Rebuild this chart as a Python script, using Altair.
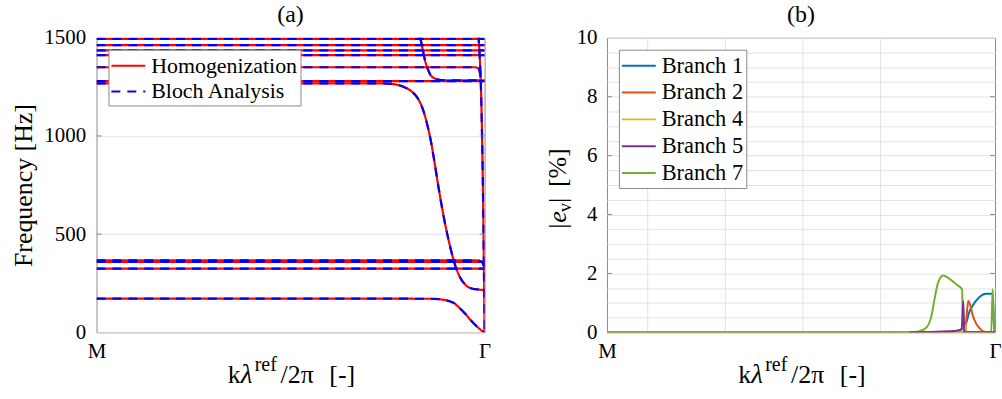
import altair as alt
import pandas as pd

FONT = "Liberation Serif"
FRAME = "#8a8a8a"
GRID = "#e2e2e2"

# ---------------- (a) dispersion diagram, k runs from M (0) to Γ (1), frequency in Hz
flat_hz = [324, 359, 1279, 1412, 1436, 1463, 1494]

acoustic_k = [0.0, 0.86, 0.89, 0.91, 0.92, 0.935, 0.95, 0.965, 0.98, 0.993, 1.0]
acoustic_hz = [172, 171, 167, 158, 150, 125, 95, 60, 30, 8, 0]

band366_k = [0.0, 0.98, 0.992, 1.0]
band366_hz = [366, 366, 360, 330]

band1350_k = [0.0, 0.975, 0.985, 0.99]
band1350_hz = [1350, 1350, 1342, 1300]

descend_k = [0.0, 0.72, 0.76, 0.78, 0.797, 0.816, 0.83, 0.842, 0.852, 0.862, 0.869,
             0.882, 0.899, 0.912, 0.921, 0.933, 0.95, 0.967, 0.985, 1.0]
descend_hz = [1268, 1268, 1265, 1258, 1245, 1220, 1185, 1130, 1060, 970, 890,
              730, 545, 430, 362, 295, 243, 223, 218, 215]

upper_k = [0.825, 0.835, 0.841, 0.846, 0.852, 0.86, 0.873, 0.89, 1.0]
upper_hz = [1590, 1494, 1436, 1389, 1350, 1313, 1292, 1284, 1283]

steep_k = [0.984, 0.987, 0.99, 0.993, 0.996, 0.998, 1.0]
steep_hz = [1520, 1420, 1290, 1050, 700, 380, 0]

methods = ["Homogenization", "Bloch Analysis"]
method_colors = ["#ff0000", "#0000ff"]
method_dash = [[1, 0], [9, 7]]

# ---------------- (b) relative error of each branch, in %
br1_k = [0.0, 0.86, 0.89, 0.905, 0.917, 0.925, 0.934, 0.942, 0.96, 0.977, 0.994, 0.998, 1.0]
br1_pct = [0, 0, 0.02, 0.06, 0.15, 0.3, 0.7, 0.9, 1.2, 1.31, 1.31, 0, 0]

br2_k = [0.0, 0.922, 0.927, 0.931, 0.936, 0.942, 0.95, 0.956, 0.963, 0.97, 0.98, 1.0]
br2_pct = [0, 0, 0.6, 1.06, 0.92, 0.6, 0.33, 0.2, 0.1, 0.03, 0, 0]

br4_k = [0.0, 0.919, 0.923, 0.927, 1.0]
br4_pct = [0, 0, 0.25, 0, 0]

br5_k = [0.78, 0.85, 0.9, 0.914, 0.918, 0.921, 1.0]
br5_pct = [0, 0.02, 0.05, 0.1, 1.06, 0, 0]

br7_k = [0.0, 0.79, 0.806, 0.823, 0.836, 0.844, 0.853, 0.866, 0.879, 0.9, 0.915,
         0.918, 0.99, 0.994, 0.998, 1.0]
br7_pct = [0, 0, 0.04, 0.16, 0.55, 1.12, 1.68, 1.93, 1.85, 1.63, 1.46,
           0, 0, 1.46, 0, 0]

branch_names = ["Branch 1", "Branch 2", "Branch 4", "Branch 5", "Branch 7"]
branch_colors = ["#0072BD", "#D95319", "#EDB120", "#7E2F8E", "#77AC30"]
# drawing order of the error curves
branch_series = [("Branch 1", br1_k, br1_pct), ("Branch 2", br2_k, br2_pct),
                 ("Branch 4", br4_k, br4_pct), ("Branch 7", br7_k, br7_pct),
                 ("Branch 5", br5_k, br5_pct)]

minor_k = [0.105, 0.305, 0.505, 0.705]

W, H = 390, 296

# ---------- build tables
rows = []
for i, hz in enumerate(flat_hz):
    rows += [{"band": f"flat{i}", "k": 0.0, "f": hz}, {"band": f"flat{i}", "k": 1.0, "f": hz}]
for name, ks, vs in [("acoustic", acoustic_k, acoustic_hz), ("b366", band366_k, band366_hz),
                     ("b1350", band1350_k, band1350_hz), ("descend", descend_k, descend_hz),
                     ("upper", upper_k, upper_hz), ("steep", steep_k, steep_hz)]:
    rows += [{"band": name, "k": k, "f": v} for k, v in zip(ks, vs)]
curves = pd.DataFrame(rows)

label_kw = dict(labelFont=FONT, labelColor="black")


def x_axis():
    return alt.X("k:Q", scale=alt.Scale(domain=[0, 1], nice=False, zero=False),
                 axis=alt.Axis(values=[0, 1], labelExpr="datum.value < 0.5 ? 'M' : 'Γ'",
                               title=None, grid=False, ticks=False, domain=False,
                               labelFlush=False, labelPadding=8, labelFontSize=21, **label_kw))


def x_title(pieces):
    layers = []
    for text, x, y, size, style in pieces:
        layers.append(
            alt.Chart(pd.DataFrame({"t": [text]})).mark_text(
                align="left", baseline="alphabetic", font=FONT, fontSize=size,
                fontStyle=style, color="black").encode(
                text="t:N", x=alt.value(x), y=alt.value(y)))
    return layers


# k λ^ref / 2π [-]
xt = [("k", 132, 347, 26, "normal"), ("λ", 145, 347, 27, "italic"),
      ("ref", 159, 335, 20, "normal"), ("/2π", 185, 347, 26, "normal"),
      ("[-]", 234, 347, 26, "normal")]


def legend(x, y, size):
    return alt.Legend(title=None, orient="none", legendX=x, legendY=y,
                      symbolType="M-1.42,0H1.42", symbolSize=576, symbolStrokeWidth=2,
                      symbolOffset=4, labelOffset=10, labelFont=FONT, labelFontSize=size,
                      labelColor="black", fillColor="white", strokeColor=FRAME,
                      padding=3, rowPadding=2, labelLimit=400)


# ---------- panel (a)
xa = x_axis()
ya = alt.Y("f:Q", scale=alt.Scale(domain=[0, 1500], nice=False),
           axis=alt.Axis(values=[0, 500, 1000, 1500], format="d", grid=True, gridColor=GRID,
                         ticks=False, domain=False, labelPadding=11, labelFontSize=21,
                         title="Frequency [Hz]", titleFont=FONT, titleFontSize=26,
                         titleFontWeight="normal", titleColor="black", titleAngle=270,
                         titleX=-73, titleY=148, titleAlign="center",
                         titleBaseline="middle", **label_kw))
leg_a = legend(12, 12, 22)
col_a = alt.Color("method:N", scale=alt.Scale(domain=methods, range=method_colors), legend=leg_a)
dash_a = alt.StrokeDash("method:N", scale=alt.Scale(domain=methods, range=method_dash), legend=leg_a)

method_layers = []
for m in methods:
    method_layers.append(
        alt.Chart(curves.assign(method=m)).mark_line(
            strokeWidth=2.2, clip=True, interpolate="monotone").encode(
            x=xa, y=ya, detail="band:N", color=col_a, strokeDash=dash_a))

ticks_a = pd.DataFrame({"f": [500, 1000]})
tick_a = [alt.Chart(ticks_a).mark_rule(color=FRAME).encode(y=ya, x=alt.value(a), x2=alt.value(b))
          for a, b in [(0, 5), (W - 5, W)]]

panel_a = alt.layer(*method_layers, *tick_a, *x_title(xt)).properties(
    width=W, height=H,
    title=alt.TitleParams("(a)", font=FONT, fontSize=24, fontWeight="normal",
                          color="black", offset=0, anchor="middle"))

# ---------- panel (b)
err_rows = []
for name, ks, vs in branch_series:
    err_rows += [{"branch": name, "k": k, "pct": v} for k, v in zip(ks, vs)]
errors = pd.DataFrame(err_rows)

xb = x_axis()
yb = alt.Y("pct:Q", scale=alt.Scale(domain=[0, 10], nice=False),
           axis=alt.Axis(values=[v / 2 for v in range(21)],
                         labelExpr="datum.value % 2 == 0 ? format(datum.value, 'd') : ''",
                         grid=True, gridColor=GRID, ticks=False, domain=False,
                         labelPadding=10, labelFontSize=21, title=None, **label_kw))
col_b = alt.Color("branch:N", scale=alt.Scale(domain=branch_names, range=branch_colors),
                  legend=legend(12, 12, 22.5))

vgrid = alt.Chart(pd.DataFrame({"k": minor_k})).mark_rule(color=GRID).encode(
    x=xb, y=alt.value(0), y2=alt.value(H))

branch_layers = [
    alt.Chart(errors[errors.branch == name]).mark_line(
        strokeWidth=2, clip=True, interpolate="monotone").encode(x=xb, y=yb, color=col_b)
    for name, _, _ in branch_series]

ticks_b = pd.DataFrame({"pct": [2, 4, 6, 8]})
tick_b = [alt.Chart(ticks_b).mark_rule(color=FRAME).encode(y=yb, x=alt.value(a), x2=alt.value(b))
          for a, b in [(0, 5), (W - 5, W)]]

# rotated y title |e_v| [%]
yt = [("|", -41, 192, 26, "normal"), ("e", -41, 186, 26, "italic"),
      ("v", -36, 175, 18, "normal"), ("|", -41, 166, 26, "normal"),
      ("[%]", -41, 150, 26, "normal")]
ytitle_b = [
    alt.Chart(pd.DataFrame({"t": [text]})).mark_text(
        align="left", baseline="alphabetic", angle=270, font=FONT, fontSize=size,
        fontStyle=style, color="black").encode(text="t:N", x=alt.value(x), y=alt.value(y))
    for text, x, y, size, style in yt]

panel_b = alt.layer(vgrid, *branch_layers, *tick_b, *x_title(xt), *ytitle_b).properties(
    width=W, height=H,
    title=alt.TitleParams("(b)", font=FONT, fontSize=24, fontWeight="normal",
                          color="black", offset=0, anchor="middle"))

chart = alt.hconcat(panel_a, panel_b, spacing=123, bounds="flush").resolve_scale(
    color="independent", strokeDash="independent").properties(
    padding={"left": 10, "top": 1, "right": 0, "bottom": 0}, background="white"
).configure_view(stroke=FRAME, strokeWidth=1)

chart.save("out.html", embed_options={"renderer": "svg", "actions": False})
